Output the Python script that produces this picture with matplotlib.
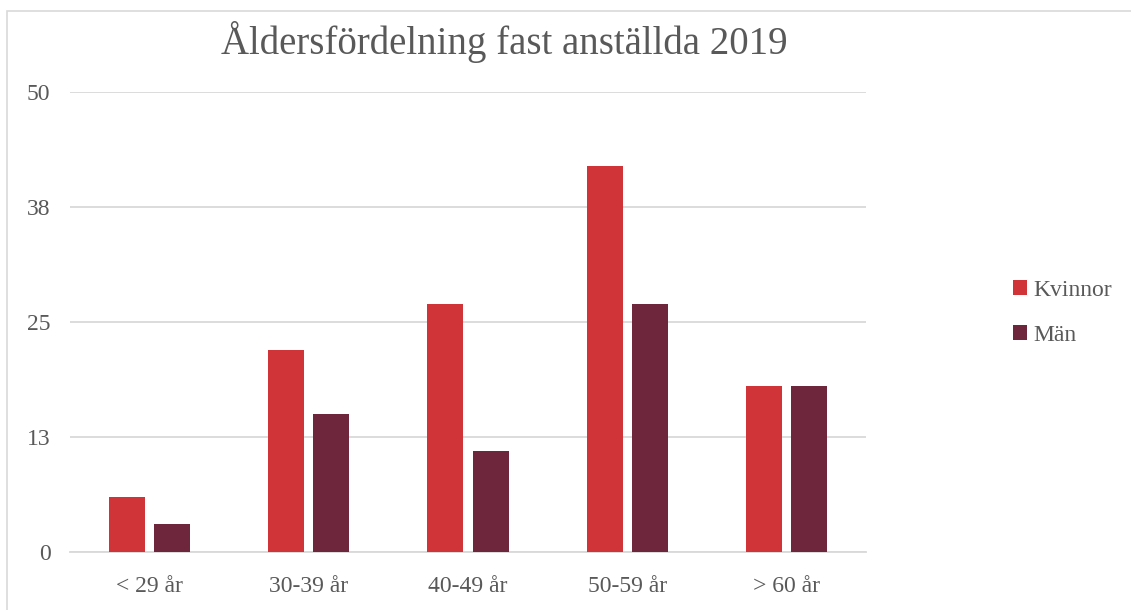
import numpy as np
import matplotlib.pyplot as plt
from matplotlib.patches import Rectangle

kategorier = ["< 29 år", "30-39 år", "40-49 år", "50-59 år", "> 60 år"]
kvinnor = [6, 22, 27, 42, 18]
man = [3, 15, 11, 27, 18]
yticks = [0, 12.5, 25, 37.5, 50]
ytick_labels = ["0", "13", "25", "38", "50"]

plt.rcParams['font.family'] = ['Liberation Serif', 'DejaVu Serif']
textfarg = '#595959'

fig = plt.figure(figsize=(11.31, 6.10), dpi=100)
fig.patches.append(Rectangle((7/1131, -0.1), 1.2, 1 - 11/610 + 0.1, transform=fig.transFigure,
                             fill=False, edgecolor='#d9d9d9', linewidth=1.2))

ax = fig.add_axes([70/1131, 58/610, 796/1131, 460/610])
x = np.arange(len(kategorier))
w = 36/159
off = 45/159/2
ax.bar(x - off, kvinnor, w, color='#d13438', label='Kvinnor', zorder=3)
ax.bar(x + off, man, w, color='#6d263b', label='Män', zorder=3)

ax.set_xlim(-0.5, len(kategorier) - 0.5)
ax.set_ylim(0, 50)
ax.set_yticks(yticks)
ax.set_yticklabels(ytick_labels)
ax.set_xticks(x)
ax.set_xticklabels(kategorier)
ax.tick_params(length=0, labelsize=17, colors=textfarg)
ax.tick_params(axis='y', pad=14)
ax.tick_params(axis='x', pad=17)
ax.grid(axis='y', color='#d9d9d9', linewidth=1.3, zorder=0)
for s in ['top', 'right', 'left']:
    ax.spines[s].set_visible(False)
ax.spines['bottom'].set_color('#d9d9d9')
ax.spines['bottom'].set_linewidth(1.3)

fig.text(504/1131, 1 - 42/610, "Åldersfördelning fast anställda 2019", ha='center', va='center',
         fontsize=28, color=textfarg)

fig.legend(loc='center left', bbox_to_anchor=(992/1131, 1 - 313/610), frameon=False,
           fontsize=17, labelcolor=textfarg, handlelength=0.6, handleheight=0.6,
           handletextpad=0.25, labelspacing=1.0)

fig.savefig('out.png', dpi=100)
